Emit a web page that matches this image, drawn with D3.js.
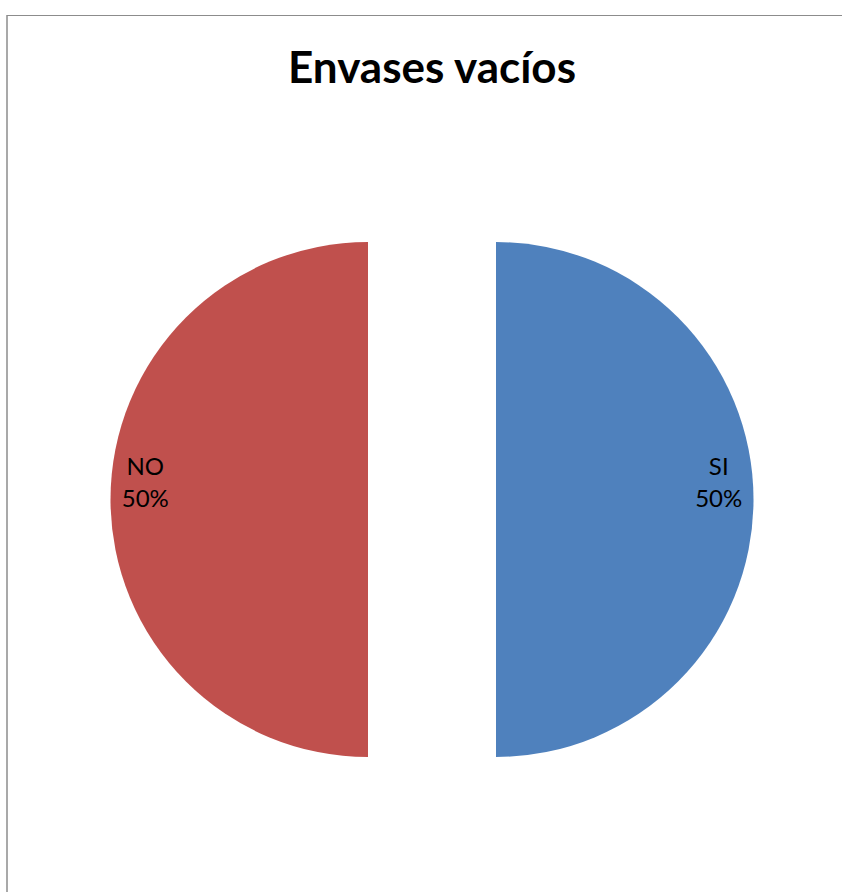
<!DOCTYPE html>
<html><head><meta charset="utf-8">
<script src="https://cdn.jsdelivr.net/npm/d3@7"></script>
<style>body{margin:0;background:#fff}svg{display:block}</style>
</head><body>
<svg id="c" width="842" height="892"></svg>
<script>
const categories = ["SI", "NO"];
const values = [50, 50];
const colors = ["#4F81BD", "#C0504D"];
const title = "Envases vacíos";

const svg = d3.select("#c");
// frame
svg.append("line").attr("x1",7).attr("x2",842).attr("y1",15.5).attr("y2",15.5).attr("stroke","#8c8c8c").attr("stroke-width",1.2);
svg.append("line").attr("x1",7).attr("x2",7).attr("y1",15).attr("y2",892).attr("stroke","#8c8c8c").attr("stroke-width",1.5);

svg.append("text").attr("x",432).attr("y",83).attr("text-anchor","middle")
  .attr("font-family","Lato, 'Open Sans', sans-serif").attr("font-weight","bold").attr("font-size",44)
  .attr("fill","#000").text(title);

const cx = 432, cy = 499.5, r = 257.5, explode = 64;
const total = d3.sum(values);
const pie = d3.pie().sort(null).value(d=>d)(values);
const arc = d3.arc().innerRadius(0).outerRadius(r);
const labelArc = d3.arc().innerRadius(r*0.865).outerRadius(r*0.865);
const g = svg.append("g").attr("transform",`translate(${cx},${cy})`);
pie.forEach((p,i)=>{
  const mid = (p.startAngle+p.endAngle)/2;
  const dx = Math.sin(mid)*explode, dy = -Math.cos(mid)*explode;
  const sg = g.append("g").attr("transform",`translate(${dx},${dy})`);
  sg.append("path").attr("d",arc(p)).attr("fill",colors[i]);
  const [lx,ly] = labelArc.centroid(p);
  const t = sg.append("text").attr("text-anchor","middle")
    .attr("font-family","Lato, 'Open Sans', sans-serif").attr("font-size",24).attr("fill","#000");
  t.append("tspan").attr("x",lx).attr("y",ly-24.5).text(categories[i]);
  t.append("tspan").attr("x",lx).attr("y",ly+7.5).text(Math.round(values[i]/total*100)+"%");
});
</script>
</body></html>
